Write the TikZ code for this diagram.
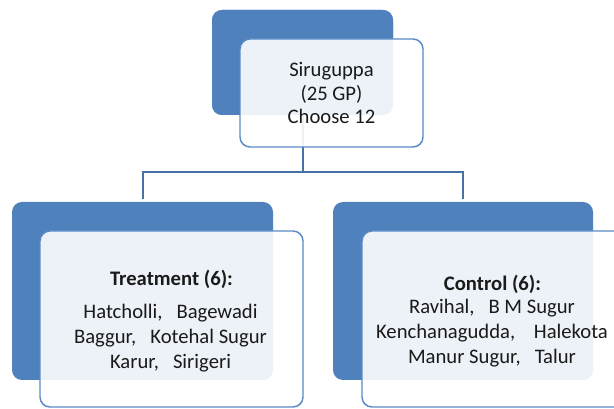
\documentclass[tikz,border=0pt]{standalone}
\usepackage{fontspec}
\setmainfont{Carlito}
\definecolor{darkblue}{HTML}{4F81BD}
\definecolor{edgeblue}{HTML}{5A8AC6}
\definecolor{linkblue}{HTML}{4672A8}
\definecolor{txt}{HTML}{1A1A1A}
\begin{document}
\begin{tikzpicture}[x=0.75pt,y=-0.75pt,
  backbox/.style={fill=darkblue,draw=none,rounded corners=7.5pt},
  frontbox/.style={fill=white,fill opacity=0.9,draw=edgeblue,line width=1.1pt,rounded corners=7.5pt},
  link/.style={draw=linkblue,line width=1.5pt},
  label/.style={text=txt,font=\fontsize{15.5}{17.5}\selectfont,align=center,inner sep=0pt}]
\useasboundingbox (0,0) rectangle (614,409);
\clip (0,0) rectangle (614,409);
% back boxes
\node[backbox,minimum width=135.75pt,minimum height=78.75pt] (topback) at (302.5,62.5) {};
\node[backbox,minimum width=195.75pt,minimum height=133.5pt] (leftback) at (142.5,291) {};
\node[backbox,minimum width=195pt,minimum height=133.5pt] (rightback) at (463,291) {};
% connectors
\coordinate (mid) at (302.5,172);
\draw[link] (topback.south) |- (mid) -| ([yshift=2.25pt]leftback.north);
\draw[link] (mid) -| ([yshift=2.25pt]rightback.north);
\node[backbox,minimum width=135.75pt,minimum height=78.75pt] at (topback) {};
% front boxes
\node[frontbox,minimum width=137.25pt,minimum height=81pt] (top) at (331.5,93) {};
\node[frontbox,minimum width=197.25pt,minimum height=132pt] (left) at (171.5,319) {};
\node[frontbox,minimum width=197.25pt,minimum height=132pt] (right) at (493.5,319) {};
% texts
\node[label] (toptext) at (331.5,93) {Siruguppa\\(25 GP)\\Choose 12};
\node[label,font=\fontsize{15.5}{17.5}\selectfont\bfseries] (ltitle) at (171.5,279) {Treatment (6):};
\node[label,font=\fontsize{15.5}{18.5}\selectfont] (lbody) at (170.5,338) {Hatcholli,\ \ \ Bagewadi\\Baggur,\ \ \ Kotehal Sugur\\Karur,\ \ \ Sirigeri};
\node[label,font=\fontsize{15.5}{17.5}\selectfont\bfseries] (rtitle) at (492.5,284) {Control (6):};
\node[label,font=\fontsize{15.5}{18.75}\selectfont] (rbody) at (492,333) {Ravihal,\ \ \ B M Sugur\\Kenchanagudda,\ \ \ \ Halekota\\Manur Sugur,\ \ \ Talur};
\end{tikzpicture}
\end{document}
